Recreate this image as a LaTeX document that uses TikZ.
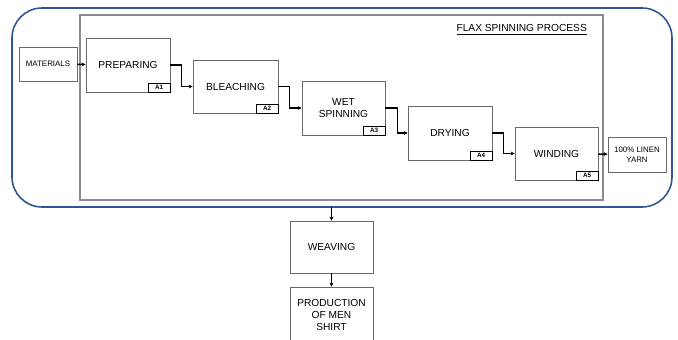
\documentclass[tikz,border=0pt]{standalone}
\usepackage{fontspec}
\setmainfont{Liberation Sans}
\usetikzlibrary{arrows.meta}
\definecolor{outerblue}{HTML}{2F5597}
\definecolor{innergray}{HTML}{8C8C8C}
\definecolor{boxgray}{HTML}{6A6A6A}
\begin{document}
\begin{tikzpicture}[x=0.02cm,y=-0.02cm,
  stepbox/.style={draw=boxgray,line width=0.55pt,align=center,inner sep=1pt,font=\fontsize{5.8}{7}\selectfont},
  smallbox/.style={draw=boxgray,line width=0.55pt,align=center,inner sep=1pt,font=\fontsize{4.5}{5.6}\selectfont},
  tag/.style={draw=black,line width=0.45pt,fill=white,anchor=south east,minimum width=0.44cm,minimum height=0.18cm,inner sep=0pt,font=\fontsize{3.6}{4}\selectfont\bfseries},
  flow/.style={draw=black,line width=0.85pt,-{Stealth[length=2.2pt,width=2.2pt]}},
  thin/.style={draw=black,line width=0.6pt,-{Stealth[length=2.2pt,width=2.2pt]}}]
\clip (0,0) rectangle (678,340);
\fill[white] (0,0) rectangle (678,340);
% frames
\draw[outerblue,line width=0.9pt,rounded corners=0.6cm] (12,8) rectangle (672,207);
\draw[innergray,line width=0.6pt] (80,15) rectangle (603,200);
\node[font=\fontsize{5.8}{7}\selectfont,anchor=east] (title) at (593,30) {\underline{FLAX SPINNING PROCESS}};
% boxes
\node[smallbox,minimum width=1.16cm,minimum height=0.68cm] (mat) at (48,64) {MATERIALS};
\node[stepbox,minimum width=1.68cm,minimum height=1.08cm] (prep) at (128,65) {PREPARING};
\node[stepbox,minimum width=1.70cm,minimum height=1.06cm] (bleach) at (235.5,86.5) {BLEACHING};
\node[stepbox,minimum width=1.66cm,minimum height=1.08cm] (wet) at (343.5,108) {WET\\SPINNING};
\node[stepbox,minimum width=1.68cm,minimum height=1.08cm] (dry) at (450,133) {DRYING};
\node[stepbox,minimum width=1.66cm,minimum height=1.06cm] (wind) at (556.5,153.5) {WINDING};
\node[smallbox,minimum width=1.16cm,minimum height=0.70cm] (yarn) at (637,154.5) {100\% LINEN\\YARN};
\node[stepbox,minimum width=1.66cm,minimum height=1.04cm] (weave) at (331.5,247) {WEAVING};
\node[stepbox,minimum width=1.66cm,minimum height=1.12cm] (shirt) at (331.5,315) {PRODUCTION\\OF MEN\\SHIRT};
% tags
\node[tag] (a1) at (prep.south east) {A1};
\node[tag] (a2) at (bleach.south east) {A2};
\node[tag] (a3) at (wet.south east) {A3};
\node[tag] (a4) at (dry.south east) {A4};
\node[tag] (a5) at (wind.south east) {A5};
% connectors
\coordinate (outbottom) at (331.5,207);
\draw[flow] (mat) -- (prep);
\draw[flow] (prep.east) -- ++(11,0) |- (bleach.west);
\draw[flow] (bleach.east) -- ++(11,0) |- (wet.west);
\draw[flow] (wet.east) -- ++(12,0) |- (dry.west);
\draw[flow] (dry.east) -- ++(11,0) |- (wind.west);
\draw[flow] (wind) -- (yarn);
\draw[thin] (outbottom) -- (weave.north);
\draw[thin] (weave) -- (shirt);
\end{tikzpicture}
\end{document}
